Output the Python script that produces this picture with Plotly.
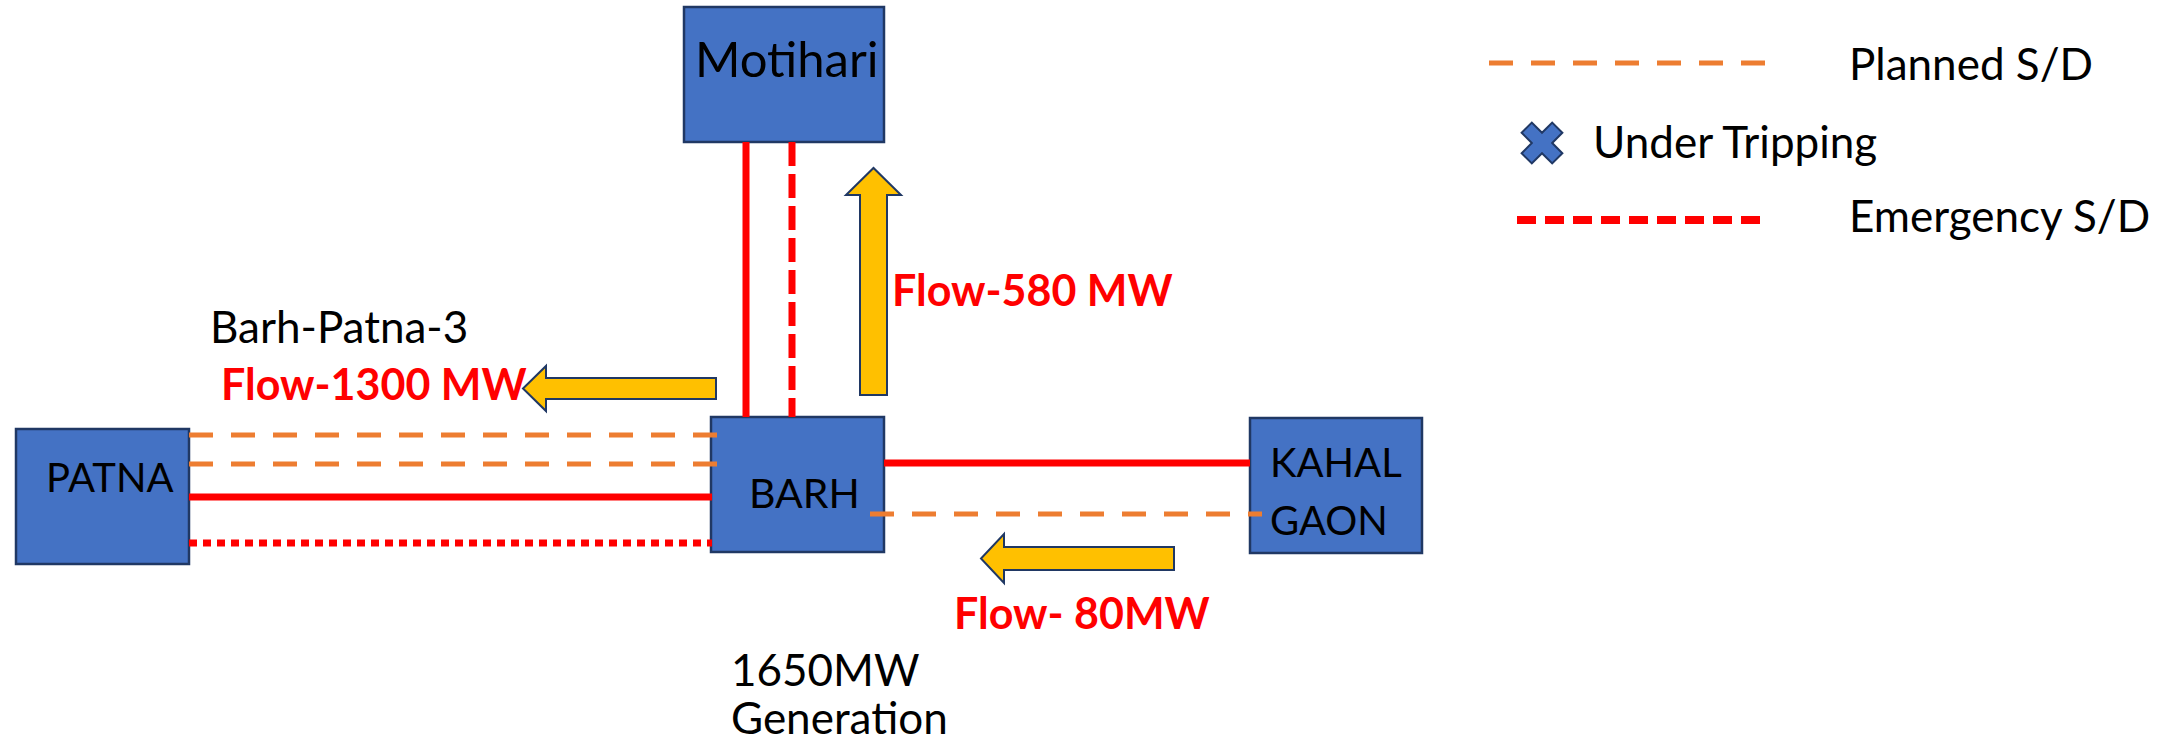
import plotly.graph_objects as go

W, H = 2172, 746

# ---------------- data ----------------
node_names = ["Motihari", "PATNA", "BARH", "KAHAL", "GAON"]
flow_values = [1300, 580, 80]
flow_labels = ["Flow-1300 MW", "Flow-580 MW", "Flow- 80MW"]
line_names = ["Barh-Patna-1", "Barh-Patna-2", "Barh-Patna-3", "Barh-Patna-4",
              "Barh-Motihari-1", "Barh-Motihari-2", "Barh-Kahalgaon-1", "Barh-Kahalgaon-2"]
line_status = ["planned", "planned", "in service", "tripping",
               "in service", "emergency", "in service", "planned"]
legend_labels = ["Planned S/D", "Under Tripping", "Emergency S/D"]
notes = ["Barh-Patna-3", "1650MW", "Generation"]

# ---------------- layout geometry (pixel canvas) ----------------
boxes = {  # x0, y0, x1, y1
    "Motihari": (684, 7, 884, 142),
    "PATNA": (16, 429, 189, 564),
    "BARH": (711, 417, 884, 552),
    "KAHALGAON": (1250, 418, 1422, 553),
}
line_geom = [  # x0, y0, x1, y1
    (189, 435, 723, 435),
    (189, 464, 723, 464),
    (189, 497, 712, 497),
    (189, 543, 712, 543),
    (746, 142, 746, 417),
    (792, 142, 792, 417),
    (884, 463, 1250, 463),
    (870, 514, 1262, 514),
]
styles = {
    "planned": dict(color="#ED7D31", width=5, dash="24px,18px"),
    "in service": dict(color="#FF0000", width=7, dash="solid"),
    "tripping": dict(color="#FF0000", width=7, dash="8px,6px"),
    "emergency": dict(color="#FF0000", width=7, dash="24px,8px"),
}
arrow_geom = [  # tail(x,y), tip(x,y), shaft half width, head half width, head length
    ((716, 388.5), (523, 388.5), 10.5, 22.5, 23),
    ((873.5, 395), (873.5, 168), 13.5, 27.5, 27),
    ((1174, 558.5), (981, 558.5), 11.5, 24.5, 23),
]
flow_label_pos = [(219, 383), (890, 289), (952, 612)]

FONT = "Lato, Calibri, 'Open Sans', sans-serif"
BOX_FILL = "#4472C4"
BOX_LINE = "#203864"

fig = go.Figure()


def arrow_path(tail, tip, sw, hw, hl):
    tx, ty = tail
    px, py = tip
    L = ((px - tx) ** 2 + (py - ty) ** 2) ** 0.5
    ux, uy = (px - tx) / L, (py - ty) / L
    nx, ny = -uy, ux
    bx, by = px - ux * hl, py - uy * hl
    pts = [
        (tx + nx * sw, ty + ny * sw),
        (bx + nx * sw, by + ny * sw),
        (bx + nx * hw, by + ny * hw),
        (px, py),
        (bx - nx * hw, by - ny * hw),
        (bx - nx * sw, by - ny * sw),
        (tx - nx * sw, ty - ny * sw),
    ]
    return "M " + " L ".join(f"{x:.1f},{y:.1f}" for x, y in pts) + " Z"


# boxes
for name, (x0, y0, x1, y1) in boxes.items():
    fig.add_shape(type="rect", x0=x0, y0=y0, x1=x1, y1=y1, xref="x", yref="y",
                  fillcolor=BOX_FILL, line=dict(color=BOX_LINE, width=2.5), layer="below")

# transmission lines
for name, status, (x0, y0, x1, y1) in zip(line_names, line_status, line_geom):
    fig.add_trace(go.Scatter(x=[x0, x1], y=[y0, y1], mode="lines", name=name,
                             line=styles[status], hoverinfo="skip", showlegend=False))

# flow arrows
for v, (tail, tip, sw, hw, hl) in zip(flow_values, arrow_geom):
    fig.add_shape(type="path", path=arrow_path(tail, tip, sw, hw, hl), xref="x", yref="y",
                  fillcolor="#FFC000", line=dict(color=BOX_LINE, width=2), layer="above")

# flow labels
for lab, (x, y) in zip(flow_labels, flow_label_pos):
    fig.add_annotation(x=x, y=y, text=f"<b>{lab}</b>", showarrow=False, xanchor="left",
                       yanchor="middle", font=dict(family=FONT, size=43, color="#FF0000"))

# node labels
node_label_pos = [(693, 58), (44, 477), (747, 492), (1268, 462), (1268, 520)]
node_label_size = [49, 40, 41, 40, 40]
for lab, (x, y), s in zip(node_names, node_label_pos, node_label_size):
    fig.add_annotation(x=x, y=y, text=lab, showarrow=False, xanchor="left", yanchor="middle",
                       font=dict(family=FONT, size=s, color="black"))

# other notes
note_pos = [(208, 326, "middle"), (729, 669, "middle"), (729, 745, "bottom")]
for lab, (x, y, ya) in zip(notes, note_pos):
    fig.add_annotation(x=x, y=y, text=lab, showarrow=False, xanchor="left", yanchor=ya,
                       font=dict(family=FONT, size=44, color="black"))

# legend
fig.add_trace(go.Scatter(x=[1489, 1769], y=[63, 63], mode="lines", line=styles["planned"],
                         hoverinfo="skip", showlegend=False))
fig.add_trace(go.Scatter(x=[1542], y=[143], mode="markers", hoverinfo="skip", showlegend=False,
                         marker=dict(symbol="x", size=36, color=BOX_FILL,
                                     line=dict(color=BOX_LINE, width=2))))
fig.add_trace(go.Scatter(x=[1517, 1766], y=[220, 220], mode="lines",
                         line=dict(color="#FF0000", width=8, dash="19px,9px"),
                         hoverinfo="skip", showlegend=False))
legend_pos = [(1847, 63), (1591, 141), (1847, 215)]
for lab, (x, y) in zip(legend_labels, legend_pos):
    fig.add_annotation(x=x, y=y, text=lab, showarrow=False, xanchor="left", yanchor="middle",
                       font=dict(family=FONT, size=44, color="black"))

fig.update_xaxes(range=[0, W], visible=False, fixedrange=True)
fig.update_yaxes(range=[H, 0], visible=False, fixedrange=True)
fig.update_layout(width=W, height=H, autosize=False, margin=dict(l=0, r=0, t=0, b=0),
                  plot_bgcolor="white", paper_bgcolor="white", showlegend=False)

fig.write_html("out.html", config={"displayModeBar": False},
               post_script="document.body.style.margin='0';document.body.style.overflow='hidden';")
